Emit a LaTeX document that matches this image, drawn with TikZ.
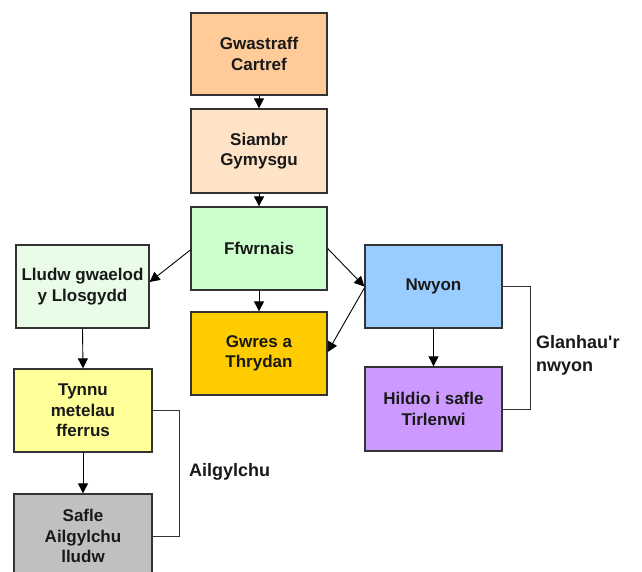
\documentclass[tikz,border=0pt]{standalone}
\usepackage{fontspec}
\setmainfont{Liberation Sans}
\usetikzlibrary{arrows.meta,calc}
\definecolor{cPeach}{HTML}{FFCC99}
\definecolor{cLightPeach}{HTML}{FFE3C6}
\definecolor{cGreen}{HTML}{CCFFCC}
\definecolor{cPaleGreen}{HTML}{E8FCE8}
\definecolor{cGold}{HTML}{FFCC00}
\definecolor{cBlue}{HTML}{99CCFF}
\definecolor{cViolet}{HTML}{CC99FF}
\definecolor{cYellow}{HTML}{FFFF99}
\definecolor{cGrey}{HTML}{C0C0C0}
\definecolor{cBorder}{HTML}{333333}
\tikzset{
  boxnode/.style={draw=cBorder, line width=1.3pt, align=center, inner sep=0pt,
    font=\fontsize{17}{20.5}\selectfont\bfseries, text=black!90},
  arrowline/.style={draw=black, line width=0.9pt, -{Triangle[width=10pt,length=10pt]}},
  bracketline/.style={draw=cBorder, line width=1pt},
  labeltext/.style={font=\fontsize{18}{23}\selectfont\bfseries, align=left, inner sep=0pt, text=black!90}
}
\begin{document}
\begin{tikzpicture}[x=1pt,y=-1pt]
\useasboundingbox (0,0) rectangle (642,572);
\clip (0,0) rectangle (642,572);
\fill[white] (0,0) rectangle (642,572);
\node[boxnode, fill=cPeach, minimum width=136pt, minimum height=82pt] (g1) at (259,54) {Gwastraff\\Cartref};
\node[boxnode, fill=cLightPeach, minimum width=136pt, minimum height=84pt] (g2) at (259,151) {Siambr\\Gymysgu};
\node[boxnode, fill=cGreen, minimum width=136pt, minimum height=83pt] (ff) at (259,248.5) {Ffwrnais};
\node[boxnode, fill=cPaleGreen, minimum width=133pt, minimum height=83pt] (ll) at (82.5,286.5) {Lludw gwaelod\\y Llosgydd};
\node[boxnode, fill=cGold, minimum width=136pt, minimum height=83pt] (gw) at (259,353.5) {Gwres a\\Thrydan};
\node[boxnode, fill=cBlue, minimum width=137pt, minimum height=83pt] (nw) at (433.5,286.5) {Nwyon};
\node[boxnode, fill=cViolet, minimum width=137pt, minimum height=84pt] (hi) at (433.5,409) {Hildio i safle\\Tirlenwi};
\node[boxnode, fill=cYellow, minimum width=138pt, minimum height=83pt] (ty) at (83,410.5) {Tynnu\\metelau\\fferrus};
\node[boxnode, fill=cGrey, minimum width=138pt, minimum height=84pt] (sa) at (83,536) {Safle\\Ailgylchu\\lludw};

\draw[arrowline] (g1.south) -- (g2.north);
\draw[arrowline] (g2.south) -- (ff.north);
\draw[arrowline] (ff.south) -- (gw.north);
\draw[arrowline] (ll.south) -- (ty.north);
\draw[arrowline] (ty.south) -- (sa.north);
\draw[arrowline] (nw.south) -- (hi.north);
\draw[arrowline] ($(ff.west)+(0,1.5)$) -- ($(ll.east)+(0,-4.5)$);
\draw[arrowline] (ff.east) -- (nw.west);
\draw[arrowline] ($(nw.west)+(0,1.5)$) -- ($(gw.east)+(0,-1.5)$);

\draw[bracketline] (nw.east) -- ++(28,0) |- (hi.east);
\draw[bracketline] (ty.east) -- ++(27,0) |- (sa.east);

\node[labeltext, anchor=west] (lg) at (536,355) {Glanhau\textquotesingle r\\nwyon};
\node[labeltext, anchor=west] (la) at (189,472) {Ailgylchu};
\end{tikzpicture}
\end{document}
